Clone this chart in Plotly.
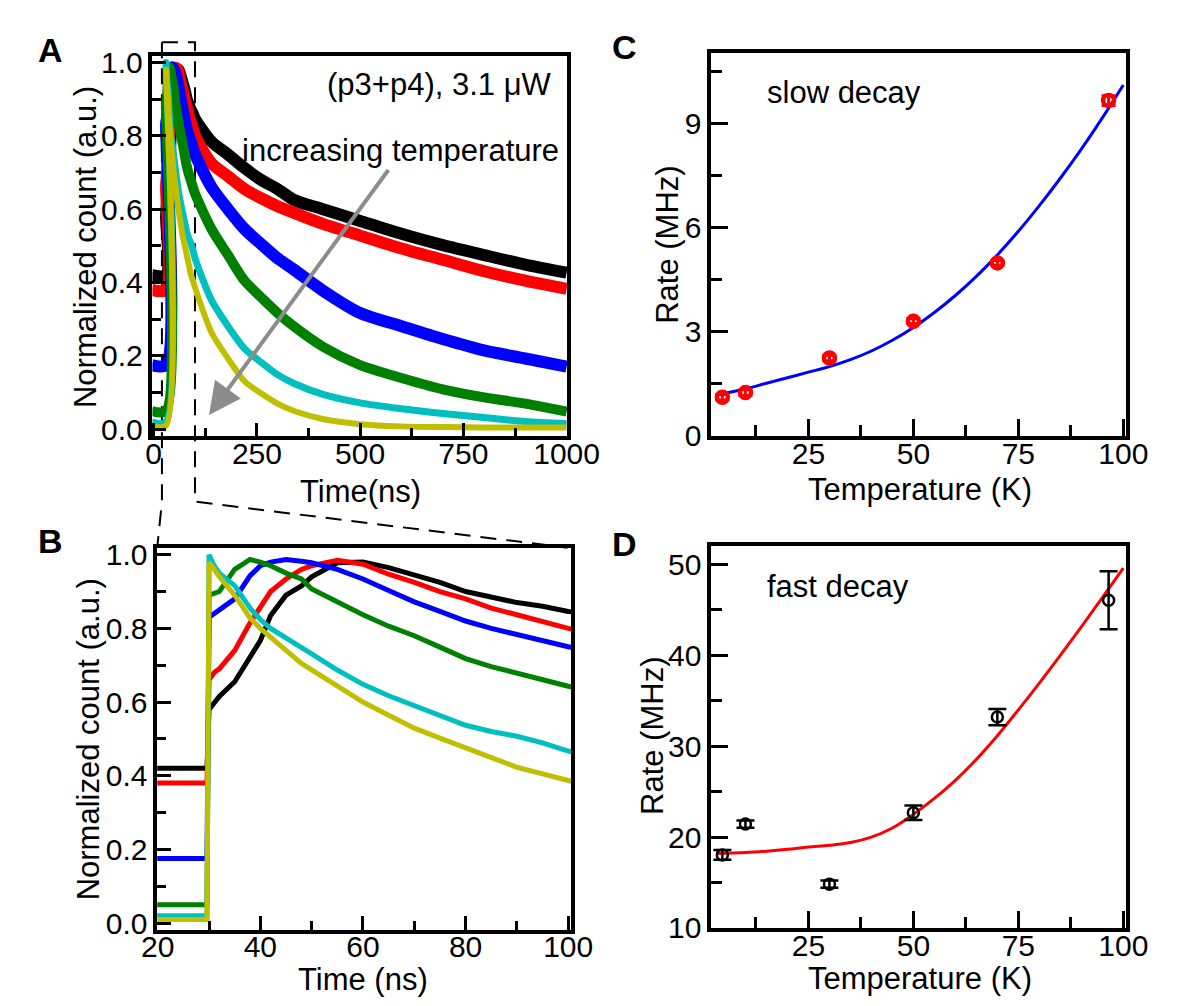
import plotly.graph_objects as go

W, H = 1180, 1006

# ---- panel A / B : normalized decay traces (time in ns) ----
time_ns = [-5, 29.6, 30, 31, 32, 35, 38, 40, 42, 45, 48, 50, 55, 60, 65, 70, 75, 80, 85, 90, 95, 100,
           140, 180, 220, 260, 300, 340, 410, 500, 600, 700, 800, 900, 1000]

black = [0.42, 0.42, 0.58, 0.60, 0.615, 0.655, 0.72, 0.767, 0.835, 0.89, 0.915, 0.94, 0.978, 0.98, 0.965,
         0.945, 0.925, 0.90, 0.885, 0.87, 0.86, 0.846,
         0.784, 0.749, 0.712, 0.68, 0.655, 0.625, 0.60, 0.568, 0.533, 0.502, 0.475, 0.449, 0.427]
red = [0.38, 0.38, 0.66, 0.68, 0.69, 0.74, 0.815, 0.855, 0.90, 0.934, 0.96, 0.97, 0.985, 0.974, 0.947,
       0.925, 0.90, 0.88, 0.855, 0.837, 0.82, 0.80,
       0.725, 0.69, 0.655, 0.63, 0.608, 0.59, 0.56, 0.528, 0.493, 0.462, 0.431, 0.405, 0.383]
blue = [0.175, 0.175, 0.83, 0.84, 0.846, 0.88, 0.943, 0.97, 0.98, 0.987, 0.982, 0.978, 0.96, 0.934, 0.903,
        0.872, 0.846, 0.82, 0.80, 0.784, 0.766, 0.75,
        0.66, 0.60, 0.546, 0.505, 0.466, 0.435, 0.378, 0.317, 0.281, 0.246, 0.215, 0.193, 0.171]
green = [0.05, 0.05, 0.89, 0.895, 0.90, 0.96, 0.987, 0.98, 0.97, 0.95, 0.934, 0.907, 0.872, 0.837, 0.806,
         0.78, 0.749, 0.718, 0.696, 0.678, 0.66, 0.643,
         0.546, 0.475, 0.405, 0.36, 0.317, 0.28, 0.225, 0.175, 0.14, 0.109, 0.087, 0.07, 0.048]
cyan = [0.02, 0.02, 1.0, 0.97, 0.95, 0.916, 0.855, 0.824, 0.80, 0.775, 0.75, 0.731, 0.687, 0.648, 0.617,
        0.59, 0.564, 0.537, 0.52, 0.507, 0.489, 0.467,
        0.352, 0.281, 0.22, 0.183, 0.149, 0.125, 0.095, 0.072, 0.056, 0.043, 0.032, 0.021, 0.015]
yellow = [0.01, 0.01, 0.98, 0.96, 0.94, 0.89, 0.828, 0.80, 0.775, 0.74, 0.705, 0.687, 0.643, 0.60, 0.564,
          0.529, 0.502, 0.476, 0.449, 0.423, 0.405, 0.387,
          0.264, 0.193, 0.131, 0.098, 0.07, 0.05, 0.028, 0.014, 0.008, 0.006, 0.005, 0.005, 0.005]

curves = [(black, '#000000', 12), (red, '#ff0000', 12), (blue, '#0000ff', 12),
          (green, '#008000', 10), (cyan, '#00bfbf', 7), (yellow, '#bfbf00', 6)]

# ---- panel C / D : rates vs temperature ----
temp_K = [4.5, 10, 30, 50, 70, 96.5]
slow_rate = [1.115, 1.25, 2.25, 3.31, 4.99, 9.67]
slow_err = [0.08, 0.08, 0.08, 0.07, 0.07, 0.14]
fast_rate = [18.04, 21.43, 14.82, 22.68, 33.21, 46.07]
fast_err = [0.55, 0.4, 0.4, 0.8, 0.9, 3.2]

fit_T = [3, 10, 15, 20, 25, 30, 35, 40, 45, 50, 55, 60, 65, 70, 75, 80, 85, 90, 95, 100]
slow_fit = [1.17, 1.36, 1.52, 1.68, 1.84, 2.0, 2.2, 2.45, 2.76, 3.13, 3.56, 4.05, 4.6, 5.22, 5.9,
            6.64, 7.43, 8.27, 9.17, 10.12]
fast_fit = [18.2, 18.3, 18.45, 18.65, 18.9, 19.1, 19.4, 20.0, 21.0, 22.5, 24.25, 26.25, 28.55, 31.15,
            34.0, 36.95, 40.0, 43.15, 46.35, 49.6]

FONT = 'Liberation Sans, Arial, sans-serif'

# pixel boxes of the four frames (left, top, right, bottom)
boxA = (134, 39, 567, 430)
boxB = (139, 544.3, 571, 936.7)
boxC = (717, 36, 1150, 429.5)
boxD = (717, 542.3, 1150, 935)


def dom(box):
    l, t, r, b = box
    return [l / W, r / W], [1 - b / H, 1 - t / H]


fig = go.Figure()

for vals, col, wA in curves:
    fig.add_trace(go.Scatter(x=time_ns, y=vals, mode='lines',
                             line=dict(color=col, width=wA, shape='spline', smoothing=0.8),
                             xaxis='x', yaxis='y', hoverinfo='skip'))
for vals, col, wA in curves:
    fig.add_trace(go.Scatter(x=time_ns, y=vals, mode='lines', line=dict(color=col, width=5),
                             xaxis='x2', yaxis='y2', hoverinfo='skip'))

fig.add_trace(go.Scatter(x=fit_T, y=slow_fit, mode='lines', line=dict(color='#0000ff', width=3, shape='spline'),
                         xaxis='x3', yaxis='y3'))
fig.add_trace(go.Scatter(x=temp_K, y=slow_rate, mode='markers',
                         marker=dict(symbol='circle-open', size=11, color='#ff0000', line=dict(width=4.5)),
                         error_y=dict(type='data', array=slow_err, color='#ff0000', thickness=3, width=7),
                         xaxis='x3', yaxis='y3'))

fig.add_trace(go.Scatter(x=fit_T, y=fast_fit, mode='lines', line=dict(color='#ff0000', width=3, shape='spline'),
                         xaxis='x4', yaxis='y4'))
fig.add_trace(go.Scatter(x=temp_K, y=fast_rate, mode='markers',
                         marker=dict(symbol='circle-open', size=11, color='black', line=dict(width=2.5)),
                         error_y=dict(type='data', array=fast_err, color='black', thickness=2.5, width=9),
                         xaxis='x4', yaxis='y4'))


def axis(box, which, rng, dtick, minor, ticklen, fmt=None, tick0=0):
    dx, dy = dom(box)
    d = dict(domain=dx if which == 'x' else dy, range=rng, showline=True, linewidth=3.5,
             linecolor='black', mirror=True, ticks='inside', ticklen=ticklen, tickwidth=3,
             tickcolor='black', showgrid=False, zeroline=False, tickmode='linear', tick0=tick0,
             dtick=dtick, tickfont=dict(family=FONT, size=30, color='black'),
             minor=dict(ticks='inside', dtick=minor, ticklen=int(ticklen * 0.7), tickwidth=3,
                        tickcolor='black', showgrid=False))
    if which == 'x':
        d['ticklabelstandoff'] = -12
    if fmt:
        d['tickformat'] = fmt
    return d


A_xr = [-3, 1002]
fig.update_layout(
    xaxis=axis(boxA, 'x', A_xr, 250, 125, 14),
    yaxis=axis(boxA, 'y', [-0.0195, 1.0177], 0.2, 0.1, 14, '.1f'),
    xaxis2=axis(boxB, 'x', [19.9, 100.6], 20, 10, 14, tick0=20),
    yaxis2=axis(boxB, 'y', [-0.0176, 1.019], 0.2, 0.1, 14, '.1f'),
    xaxis3=axis(boxC, 'x', [1.85, 100.7], 25, 12.5, 17),
    yaxis3=axis(boxC, 'y', [0, 11.04], 3, 1.5, 17),
    xaxis4=axis(boxD, 'x', [1.85, 100.7], 25, 12.5, 17),
    yaxis4=axis(boxD, 'y', [10, 52.07], 10, 5, 17),
)
for i in ['', '2', '3', '4']:
    fig.layout['xaxis' + i].anchor = 'y' + i
    fig.layout['yaxis' + i].anchor = 'x' + i


# dashed zoom box: A's x = 20 .. 100 ns, leading to panel B
def a_px(v):
    l, t, r, b = boxA
    return l + (v - A_xr[0]) / (A_xr[1] - A_xr[0]) * (r - l)


def p(px, py):
    return f'{px / W:.5f},{1 - py / H:.5f}'


x20, x100 = a_px(20), a_px(100)
path_l = f'M {p(x20, 25)} L {p(x20, 497)} L {p(boxB[0], boxB[1])}'
path_r = f'M {p(x20, 25)} L {p(x100, 25)} L {p(x100, 497)} L {p(boxB[2] - 4, boxB[1])}'
shapes = [dict(type='path', path=pp, xref='paper', yref='paper', layer='below',
               line=dict(color='black', width=2, dash='16px,10px')) for pp in (path_l, path_r)]

txt = dict(family=FONT, size=31, color='black')


def label(text, cx, cy, anchor='center', angle=0, font=txt):
    return dict(text=text, x=cx / W, y=1 - cy / H, xref='paper', yref='paper', showarrow=False,
                xanchor=anchor, yanchor='middle', textangle=angle, font=font)


bold = dict(family=FONT, size=34, color='black')
ann = [
    label('<b>A</b>', 28, 33, font=bold),
    label('<b>B</b>', 28, 537, font=bold),
    label('<b>C</b>', 626, 30, font=bold),
    label('<b>D</b>', 627, 541, font=bold),
    # axis titles
    label('Normalized count (a.u.)', 64, 235, angle=-90),
    label('Time(ns)', 351, 487),
    label('Normalized count (a.u.)', 67, 741, angle=-90),
    label('Time (ns)', 354, 988),
    label('Rate (MHz)', 672, 233, angle=-90),
    label('Temperature (K)', 935, 484),
    label('Rate (MHz)', 655, 738, angle=-90),
    label('Temperature (K)', 935, 987),
    # in-plot texts
    label('(p3+p4), 3.1 μW', 553, 68, anchor='right'),
    label('increasing temperature', 560, 136, anchor='right'),
    label('slow decay', 773, 77, anchor='left'),
    label('fast decay', 773, 584, anchor='left'),
    dict(text='', x=134, y=0.039, ax=571, ay=0.711, xref='x', yref='y', axref='x', ayref='y',
         showarrow=True, arrowhead=2, arrowsize=1.6, arrowwidth=4, arrowcolor='#8c8c8c', standoff=0),
]

fig.update_layout(width=W, height=H, margin=dict(l=0, r=0, t=0, b=0), showlegend=False,
                  paper_bgcolor='white', plot_bgcolor='rgba(0,0,0,0)',
                  font=dict(family=FONT, color='black'), shapes=shapes, annotations=ann)

fig.write_html('out.html')
